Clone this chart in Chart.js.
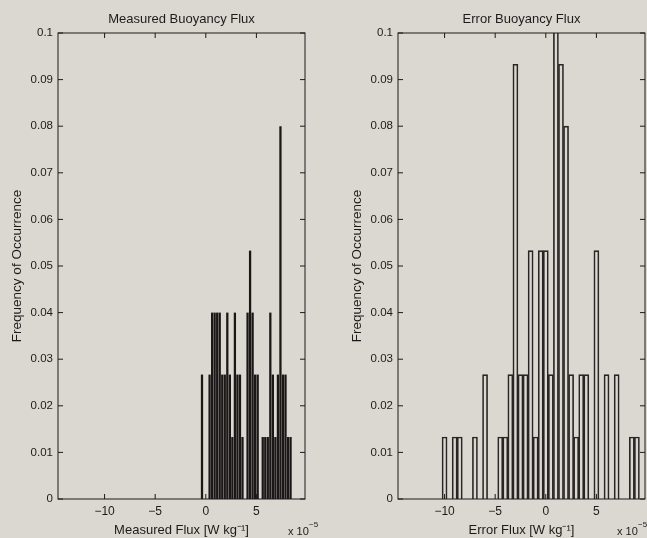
<!DOCTYPE html>
<html>
<head>
<meta charset="utf-8">
<script src="https://cdn.jsdelivr.net/npm/chart.js@4"></script>
<style>
  html, body { margin: 0; padding: 0; background: #dad8d1; }
  #wrap { position: relative; width: 647px; height: 538px; overflow: hidden; }
  .pane { position: absolute; top: 0; height: 538px; }
  /* panes are centred on their plot boxes so the titles sit over the axes */
  #left { left: 0; width: 363px; }
  #right { left: 323px; width: 397px; }
</style>
</head>
<body>
<div id="wrap">
  <div class="pane" id="left"><canvas id="c1"></canvas></div>
  <div class="pane" id="right"><canvas id="c2"></canvas></div>
</div>
<script>
// axis ticks (flux in units of 1e-5 W/kg)
const xTicks = [-10, -5, 0, 5];
const yTicks = [0, 0.01, 0.02, 0.03, 0.04, 0.05, 0.06, 0.07, 0.08, 0.09, 0.1];

// measured flux histogram: bin centres and frequency of occurrence
const measuredBins = [-0.375, 0.375, 0.625, 0.875, 1.125, 1.375, 1.625, 1.875, 2.125, 2.375, 2.625,
  2.875, 3.125, 3.375, 3.625, 4.125, 4.375, 4.625, 4.875, 5.125, 5.625, 5.875, 6.125, 6.375,
  6.625, 6.875, 7.125, 7.375, 7.625, 7.875, 8.125, 8.375];
const measuredFreq = [0.0267, 0.0267, 0.04, 0.04, 0.04, 0.04, 0.0267, 0.0267, 0.04, 0.0267, 0.0133,
  0.04, 0.0267, 0.0267, 0.0133, 0.04, 0.0533, 0.04, 0.0267, 0.0267, 0.0133, 0.0133, 0.0133, 0.04,
  0.0267, 0.0133, 0.0267, 0.08, 0.0267, 0.0267, 0.0133, 0.0133];

// error flux histogram
const errorBins = [-10, -9, -8.5, -7, -6, -4.5, -4, -3.5, -3, -2.5, -2, -1.5, -1, -0.5, 0, 0.5,
  1, 1.5, 2, 2.5, 3, 3.5, 4, 5, 6, 7, 8.5, 9];
const errorFreq = [0.0133, 0.0133, 0.0133, 0.0133, 0.0267, 0.0133, 0.0133, 0.0267, 0.0933, 0.0267,
  0.0267, 0.0533, 0.0133, 0.0533, 0.0533, 0.0267, 0.12, 0.0933, 0.08, 0.0267, 0.0133, 0.0267,
  0.0267, 0.0533, 0.0267, 0.0267, 0.0133, 0.0133];

const ink = '#1e1a1a';
const fontFam = '"Liberation Sans", Arial, sans-serif';
Chart.defaults.font.family = fontFam;
Chart.defaults.color = ink;

function minus(v) {
  return v < 0 ? '\u2212' + Math.abs(v) : String(v);
}

// box round the axes with inward ticks on all four sides, plus the x 10^-5 note
const frame = {
  id: 'frame',
  afterDraw(chart, args, opts) {
    const { ctx, chartArea: a, scales: { x, y } } = chart;
    ctx.save();
    ctx.strokeStyle = ink;
    ctx.lineWidth = 1;
    ctx.strokeRect(a.left, a.top, a.right - a.left, a.bottom - a.top);
    ctx.beginPath();
    x.ticks.forEach(t => {
      const px = x.getPixelForValue(t.value);
      ctx.moveTo(px, a.bottom); ctx.lineTo(px, a.bottom - 5);
      ctx.moveTo(px, a.top); ctx.lineTo(px, a.top + 5);
    });
    y.ticks.forEach(t => {
      const py = y.getPixelForValue(t.value);
      ctx.moveTo(a.left, py); ctx.lineTo(a.left + 5, py);
      ctx.moveTo(a.right, py); ctx.lineTo(a.right - 5, py);
    });
    ctx.stroke();
    // exponent note under the right end of the x axis
    const ex = a.right + opts.expShift;
    ctx.fillStyle = ink;
    ctx.textBaseline = 'alphabetic';
    ctx.font = '11px ' + fontFam;
    ctx.fillText('x 10', ex, 535);
    ctx.font = '8px ' + fontFam;
    ctx.fillText('\u22125', ex + 21, 527);
    ctx.restore();
  }
};

function makeChart(id, title, xTitle, bins, freq, axisWidth, yTitlePad, expShift, outline) {
  const pts = bins.map((b, i) => ({ x: b, y: freq[i] }));
  return new Chart(document.getElementById(id), {
    type: 'bar',
    data: {
      datasets: [{
        data: pts,
        backgroundColor: outline ? 'rgba(0,0,0,0)' : '#1c1717',
        borderColor: outline ? '#2a2424' : '#1c1717',
        borderWidth: outline ? 1 : 0,
        barPercentage: outline ? 1 : 0.9,
        categoryPercentage: 1
      }]
    },
    options: {
      responsive: true,
      maintainAspectRatio: false,
      animation: false,
      layout: { padding: 0 },
      plugins: {
        legend: { display: false },
        tooltip: { enabled: false },
        title: {
          display: true,
          text: title,
          font: { size: 13, weight: 'normal' },
          color: ink,
          padding: { top: 12, bottom: 5.4 }
        },
        frame: { expShift: expShift }
      },
      scales: {
        x: {
          type: 'linear',
          min: -14.6,
          max: 9.8,
          offset: false,
          grid: { display: false, drawTicks: false, offset: false },
          border: { display: false },
          afterBuildTicks: s => { s.ticks = xTicks.map(v => ({ value: v })); },
          afterFit: s => { s.height = 39; },
          ticks: { padding: 5, font: { size: 12 }, callback: v => minus(v), maxRotation: 0 },
          title: { display: true, text: xTitle, font: { size: 13 }, padding: { top: 0, bottom: 0 } }
        },
        y: {
          min: 0,
          max: 0.1,
          grid: { display: false, drawTicks: false },
          border: { display: false },
          afterBuildTicks: s => { s.ticks = yTicks.map(v => ({ value: v })); },
          afterFit: s => { s.width = axisWidth; },
          ticks: { padding: 5, font: { size: 11.5 }, callback: v => String(+v.toFixed(2)) },
          title: {
            display: true,
            text: 'Frequency of Occurrence',
            font: { size: 13.5 },
            padding: { top: yTitlePad, bottom: 0 }
          }
        },
        // empty spacer on the right so the title centres over the plot box
        yPad: {
          position: 'right',
          min: 0,
          max: 0.1,
          grid: { display: false, drawTicks: false },
          border: { display: false },
          ticks: { display: false },
          afterFit: s => { s.width = axisWidth; }
        }
      }
    },
    plugins: [frame]
  });
}

makeChart('c1', 'Measured Buoyancy Flux', 'Measured Flux [W kg\u207B\u00B9]',
  measuredBins, measuredFreq, 58, 9, -17, false);
makeChart('c2', 'Error Buoyancy Flux', 'Error Flux [W kg\u207B\u00B9]',
  errorBins, errorFreq, 75, 26.5, -28, true);
</script>
</body>
</html>
